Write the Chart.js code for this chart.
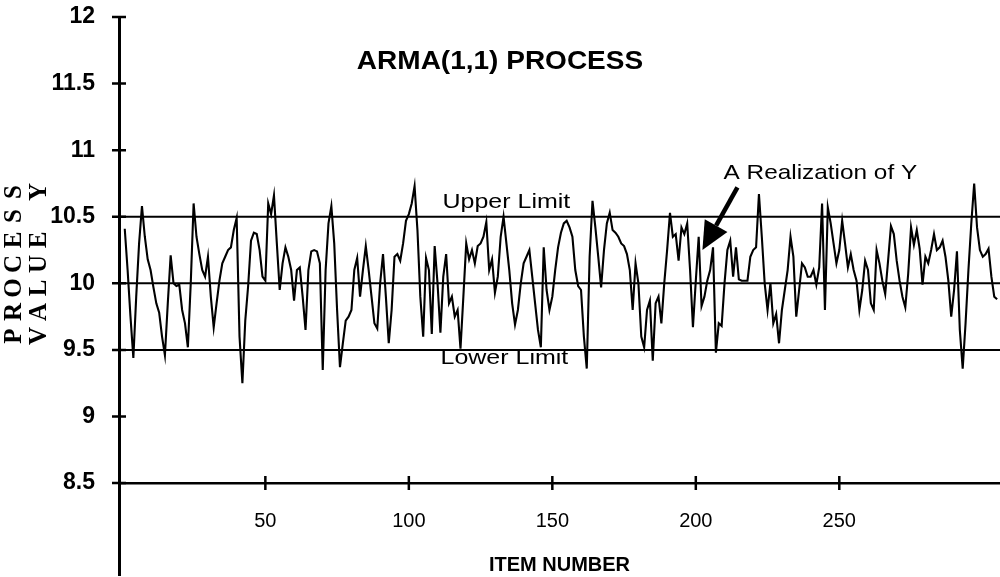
<!DOCTYPE html>
<html>
<head>
<meta charset="utf-8">
<title>ARMA(1,1) PROCESS</title>
<script src="https://cdn.jsdelivr.net/npm/chart.js@4.4.1/dist/chart.umd.min.js"></script>
<style>
  html, body { margin: 0; padding: 0; background: #fff; }
  #wrap { position: relative; width: 1000px; height: 577px; }
</style>
</head>
<body>
<div id="wrap"><canvas id="armaChart"></canvas></div>
<script>
// one realization of Y, items 1..305
const processValues = [
  10.41, 10.10, 9.75, 9.44, 9.90, 10.30, 10.58, 10.35, 10.18, 10.10,
  9.97, 9.85, 9.78, 9.60, 9.46, 9.85, 10.21, 10.00, 9.98, 9.99,
  9.80, 9.70, 9.52, 10.00, 10.60, 10.35, 10.22, 10.10, 10.05, 10.20,
  9.90, 9.67, 9.85, 10.02, 10.15, 10.20, 10.25, 10.27, 10.40, 10.49,
  9.60, 9.25, 9.72, 9.98, 10.32, 10.38, 10.37, 10.25, 10.05, 10.02,
  10.60, 10.52, 10.66, 10.30, 9.95, 10.15, 10.27, 10.20, 10.10, 9.87,
  10.10, 10.12, 9.90, 9.65, 10.10, 10.24, 10.25, 10.24, 10.15, 9.35,
  10.10, 10.45, 10.58, 10.30, 9.80, 9.37, 9.55, 9.72, 9.75, 9.80,
  10.10, 10.19, 9.90, 10.10, 10.28, 10.10, 9.90, 9.70, 9.66, 10.00,
  10.22, 9.90, 9.55, 9.80, 10.20, 10.22, 10.17, 10.30, 10.47, 10.52,
  10.60, 10.73, 10.40, 9.90, 9.60, 10.19, 10.10, 9.62, 10.28, 10.00,
  9.63, 10.05, 10.22, 9.85, 9.90, 9.75, 9.80, 9.51, 9.90, 10.30,
  10.18, 10.25, 10.15, 10.28, 10.30, 10.35, 10.46, 10.10, 10.18, 9.93,
  10.05, 10.35, 10.50, 10.30, 10.10, 9.85, 9.69, 9.80, 10.00, 10.15,
  10.20, 10.25, 10.05, 9.85, 9.65, 9.52, 10.27, 9.95, 9.80, 9.90,
  10.10, 10.27, 10.38, 10.45, 10.47, 10.42, 10.35, 10.10, 9.98, 9.95,
  9.60, 9.36, 10.20, 10.62, 10.42, 10.20, 9.97, 10.25, 10.45, 10.53,
  10.40, 10.38, 10.35, 10.30, 10.28, 10.22, 10.10, 9.80, 10.15, 10.00,
  9.60, 9.52, 9.80, 9.87, 9.42, 9.85, 9.90, 9.70, 10.00, 10.25,
  10.53, 10.35, 10.37, 10.17, 10.42, 10.37, 10.45, 10.10, 9.67, 10.02,
  10.35, 9.83, 9.90, 10.02, 10.10, 10.27, 9.48, 9.70, 9.68, 10.00,
  10.25, 10.32, 10.05, 10.27, 10.03, 10.02, 10.02, 10.02, 10.20, 10.25,
  10.27, 10.67, 10.35, 10.00, 9.80, 10.00, 9.70, 9.77, 9.55, 9.80,
  9.95, 10.10, 10.35, 10.20, 9.75, 9.95, 10.15, 10.12, 10.05, 10.05,
  10.10, 9.99, 10.12, 10.60, 9.80, 10.57, 10.45, 10.30, 10.15, 10.25,
  10.47, 10.30, 10.12, 10.22, 10.10, 10.02, 9.80, 9.95, 10.17, 10.10,
  9.85, 9.80, 10.25, 10.15, 10.02, 9.92, 10.17, 10.43, 10.37, 10.17,
  10.02, 9.90, 9.82, 10.07, 10.42, 10.29, 10.40, 10.26, 9.99, 10.20,
  10.15, 10.25, 10.37, 10.25, 10.27, 10.32, 10.20, 10.02, 9.75, 9.95,
  10.24, 9.65, 9.36, 9.70, 10.10, 10.45, 10.75, 10.42, 10.25, 10.20,
  10.22, 10.26, 10.05, 9.90, 9.88
];
const itemNumbers = processValues.map((v, i) => i + 1);

const upperLimit = 10.5;
const centerLine = 10;
const lowerLimit = 9.5;

const yTicks = [8.5, 9, 9.5, 10, 10.5, 11, 11.5, 12];
const xTicks = [50, 100, 150, 200, 250];
const xRange = [-1, 306];
const yRange = [7.81, 12];
const xAxisAt = 8.5;

const FONT = '"Liberation Sans", Arial, sans-serif';

function hLine(v) {
  return {
    data: [{ x: xRange[0], y: v }, { x: xRange[1], y: v }],
    borderColor: '#000',
    borderWidth: 2,
    pointRadius: 0,
    order: 2,
  };
}

function stretchText(ctx, text, x, y, font, sx) {
  ctx.save();
  ctx.translate(x, y);
  ctx.scale(sx, 1);
  ctx.font = font;
  ctx.fillStyle = '#000';
  ctx.textAlign = 'center';
  ctx.textBaseline = 'middle';
  ctx.fillText(text, 0, 0);
  ctx.restore();
}

// tick marks that cross the axes, like the original
const crossTicks = {
  id: 'crossTicks',
  afterDatasetsDraw(chart) {
    const { ctx, scales: { x, y } } = chart;
    const left = chart.chartArea.left;
    const axisY = y.getPixelForValue(xAxisAt);
    ctx.save();
    ctx.strokeStyle = '#000';
    ctx.lineWidth = 2.5;
    ctx.beginPath();
    yTicks.forEach((v) => {
      const py = y.getPixelForValue(v);
      ctx.moveTo(left - 7, py);
      ctx.lineTo(left + 7, py);
    });
    xTicks.forEach((v) => {
      const px = x.getPixelForValue(v);
      ctx.moveTo(px, axisY - 7);
      ctx.lineTo(px, axisY + 7);
    });
    ctx.stroke();
    ctx.restore();
  },
};

const notes = {
  id: 'notes',
  afterDraw(chart) {
    const { ctx, scales: { x, y } } = chart;
    stretchText(ctx, 'ARMA(1,1) PROCESS', 500, 62, 'bold 25px ' + FONT, 1.12);
    stretchText(ctx, 'Upper Limit', x.getPixelForValue(134), y.getPixelForValue(10.61), '21px ' + FONT, 1.19);
    stretchText(ctx, 'Lower Limit', x.getPixelForValue(133.3), y.getPixelForValue(9.44), '21px ' + FONT, 1.19);
    stretchText(ctx, 'A Realization of Y', x.getPixelForValue(243.4), y.getPixelForValue(10.83), '21px ' + FONT, 1.16);

    // arrow to the series
    const sx = x.getPixelForValue(214.5), sy = y.getPixelForValue(10.72);
    const tx = x.getPixelForValue(202.3), ty = y.getPixelForValue(10.25);
    const len = Math.hypot(tx - sx, ty - sy);
    const ux = (tx - sx) / len, uy = (ty - sy) / len;
    const headLen = 28, half = 13;
    const bx = tx - ux * headLen, by = ty - uy * headLen;
    ctx.save();
    ctx.strokeStyle = '#000';
    ctx.fillStyle = '#000';
    ctx.lineWidth = 4.5;
    ctx.beginPath();
    ctx.moveTo(sx, sy);
    ctx.lineTo(bx, by);
    ctx.stroke();
    ctx.beginPath();
    ctx.moveTo(tx, ty);
    ctx.lineTo(bx - uy * half, by + ux * half);
    ctx.lineTo(bx + uy * half, by - ux * half);
    ctx.closePath();
    ctx.fill();
    ctx.restore();

    // y axis title: two rotated lines with wide letter spacing
    const lines = [['PROCESS', 14], ['VALUE Y', 39]];
    ctx.save();
    ctx.fillStyle = '#000';
    ctx.font = 'bold 25px "Liberation Serif", "Times New Roman", serif';
    ctx.textAlign = 'center';
    ctx.textBaseline = 'middle';
    lines.forEach(([txt, cx]) => {
      for (let k = 0; k < txt.length; k++) {
        ctx.save();
        ctx.translate(cx, 336 - k * 24);
        ctx.rotate(-Math.PI / 2);
        ctx.fillText(txt[k], 0, 1);
        ctx.restore();
      }
    });
    ctx.restore();
  },
};

const ctx = document.getElementById('armaChart').getContext('2d');
new Chart(ctx, {
  type: 'line',
  data: {
    datasets: [
      {
        label: 'A Realization of Y',
        data: itemNumbers.map((n, i) => ({ x: n, y: processValues[i] })),
        borderColor: '#000',
        borderWidth: 2.1,
        pointRadius: 0,
        tension: 0,
        order: 1,
      },
      hLine(upperLimit),
      hLine(centerLine),
      hLine(lowerLimit),
    ],
  },
  options: {
    responsive: true,
    maintainAspectRatio: false,
    animation: false,
    layout: { padding: { top: 17, right: 0, bottom: 2, left: 0 } },
    plugins: {
      legend: { display: false },
      tooltip: { enabled: false },
    },
    scales: {
      x: {
        type: 'linear',
        position: { y: xAxisAt },
        min: xRange[0],
        max: xRange[1],
        afterBuildTicks: (s) => { s.ticks = xTicks.map((v) => ({ value: v })); },
        afterFit: (s) => { s.height = 94; s.paddingLeft = 0; s.paddingRight = 0; },
        grid: { display: false },
        border: { display: true, color: '#000', width: 2.5 },
        ticks: { color: '#000', font: { family: FONT, size: 20 }, padding: 18, maxRotation: 0, autoSkip: false },
        title: { display: true, text: 'ITEM NUMBER', color: '#000', font: { family: FONT, size: 20, weight: 'bold' }, padding: 0 },
      },
      y: {
        type: 'linear',
        min: yRange[0],
        max: yRange[1],
        afterBuildTicks: (s) => { s.ticks = yTicks.map((v) => ({ value: v })); },
        afterFit: (s) => { s.width = 119; s.paddingTop = 0; s.paddingBottom = 0; },
        grid: { display: false },
        border: { display: true, color: '#000', width: 3 },
        ticks: {
          color: '#000',
          font: { family: FONT, size: 23, weight: 'bold' },
          padding: 16,
          callback: (v) => String(v),
        },
      },
    },
  },
  plugins: [crossTicks, notes],
});
</script>
</body>
</html>
